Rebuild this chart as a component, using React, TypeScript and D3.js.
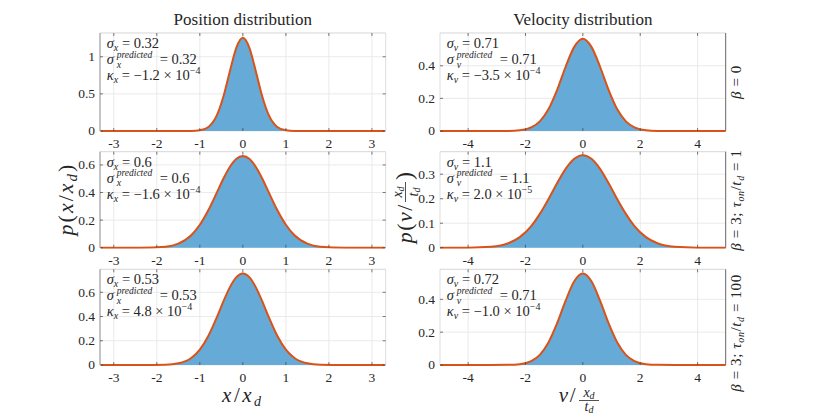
import * as d3 from "d3";

const SERIF = "'Liberation Serif', 'Times New Roman', serif";

// sample points (position column, x / x_d)
const posX = [-3.3, -2.4, -1.8, -1.5, -1.2, -1.0, -0.8, -0.6, -0.45, -0.3, -0.15, 0, 0.15, 0.3, 0.45, 0.6, 0.8, 1.0, 1.2, 1.5, 1.8, 2.4, 3.3];
const posBeta0 = [0, 0, 0, 0, 0.0011, 0.0095, 0.055, 0.217, 0.467, 0.809, 1.124, 1.255, 1.124, 0.809, 0.467, 0.217, 0.055, 0.0095, 0.0011, 0, 0, 0, 0];
const posTau1 = [0, 0.0002, 0.0074, 0.029, 0.09, 0.166, 0.273, 0.403, 0.502, 0.587, 0.645, 0.665, 0.645, 0.587, 0.502, 0.403, 0.273, 0.166, 0.09, 0.029, 0.0074, 0.0002, 0];
const posTau100 = [0, 0, 0.0024, 0.0138, 0.058, 0.127, 0.242, 0.398, 0.527, 0.643, 0.725, 0.755, 0.725, 0.643, 0.527, 0.398, 0.242, 0.127, 0.058, 0.0138, 0.0024, 0, 0];

// velocity column, v / (x_d/t_d)
const velX = [-5, -4, -3.2, -2.6, -2.2, -1.8, -1.5, -1.2, -0.9, -0.6, -0.3, 0, 0.3, 0.6, 0.9, 1.2, 1.5, 1.8, 2.2, 2.6, 3.2, 4, 5];
const velBeta0 = [0, 0, 0, 0.0007, 0.0044, 0.022, 0.059, 0.133, 0.251, 0.394, 0.516, 0.566, 0.516, 0.394, 0.251, 0.133, 0.059, 0.022, 0.0044, 0.0007, 0, 0, 0];
const velTau1 = [0, 0.0003, 0.0038, 0.018, 0.043, 0.088, 0.138, 0.198, 0.263, 0.322, 0.363, 0.378, 0.363, 0.322, 0.263, 0.198, 0.138, 0.088, 0.043, 0.018, 0.0038, 0.0003, 0];
const velTau100 = [0, 0, 0, 0.0008, 0.005, 0.024, 0.062, 0.137, 0.253, 0.392, 0.51, 0.557, 0.51, 0.392, 0.253, 0.137, 0.062, 0.024, 0.005, 0.0008, 0, 0, 0];

const posXTicks = [-3, -2, -1, 0, 1, 2, 3];
const velXTicks = [-4, -2, 0, 2, 4];
const posYTicks = [[0, 0.5, 1], [0, 0.2, 0.4, 0.6], [0, 0.2, 0.4, 0.6]];
const velYTicks = [[0, 0.2, 0.4], [0, 0.1, 0.2, 0.3], [0, 0.2, 0.4]];
const posYMax = [1.32, 0.696, 0.79];
const velYMax = [0.601, 0.392, 0.583];

const posSigma = ["0.32", "0.6", "0.53"];
const posSigmaPred = ["0.32", "0.6", "0.53"];
const posKappa = ["\u22121.2", "\u22121.6", "4.8"];
const posKappaExp = ["\u22124", "\u22124", "\u22124"];
const velSigma = ["0.71", "1.1", "0.72"];
const velSigmaPred = ["0.71", "1.1", "0.71"];
const velKappa = ["\u22123.5", "2.0", "\u22121.0"];
const velKappaExp = ["\u22124", "\u22125", "\u22124"];

const betaVals = ["0", "3", "3"];
const tauRatios = ["", "1", "100"];

const posSeries = [posBeta0, posTau1, posTau100];
const velSeries = [velBeta0, velTau1, velTau100];

// layout
const ROWS = [
  { top: 33, bottom: 131 },
  { top: 151.7, bottom: 247.7 },
  { top: 269.3, bottom: 365 },
];
const POS_L = 100, POS_R = 385.7;
const VEL_L = 440, VEL_R = 725.7;
const LABEL_Y = [82, 200, 333];

const BLUE = "rgb(102,170,215)";
const RED = "#D95319";

type P = [number, number];

function Panel(props: {
  id: string; left: number; right: number; top: number; bottom: number;
  domain: [number, number]; xTicks: number[]; yMax: number; yTicks: number[];
  xs: number[]; ys: number[]; col: "pos" | "vel";
}) {
  const { id, left, right, top, bottom, domain, xTicks, yMax, yTicks, xs, ys, col } = props;
  const x = d3.scaleLinear().domain(domain).range([left, right]);
  const y = d3.scaleLinear().domain([0, yMax]).range([bottom, top]);
  const pts: P[] = xs.map((v, i) => [v, ys[i]]);
  const area = d3.area<P>().x((d) => x(d[0])).y0(y(0)).y1((d) => y(d[1])).curve(d3.curveMonotoneX);
  const line = d3.line<P>().x((d) => x(d[0])).y((d) => y(d[1])).curve(d3.curveMonotoneX);
  const T = 3;
  return (
    <g>
      <defs>
        <clipPath id={id}>
          <rect x={left} y={top - 2} width={right - left} height={bottom - top + 3} />
        </clipPath>
      </defs>
      {/* grid */}
      {xTicks.map((t) => (
        <line key={"gx" + t} x1={x(t)} x2={x(t)} y1={top} y2={bottom} stroke="#e4e4e4" strokeWidth={0.8} />
      ))}
      {yTicks.map((t) => (
        <line key={"gy" + t} x1={left} x2={right} y1={y(t)} y2={y(t)} stroke="#e4e4e4" strokeWidth={0.8} />
      ))}
      <g clipPath={`url(#${id})`}>
        <path d={area(pts) || ""} fill={BLUE} />
        <path d={line(pts) || ""} fill="none" stroke={RED} strokeWidth={2} strokeLinejoin="round" />
      </g>
      {/* box */}
      <line x1={left} x2={right} y1={top} y2={top} stroke="#c4c4c4" strokeWidth={0.7} />
      {col === "pos" ? (
        <>
          <line x1={left} x2={left} y1={top} y2={bottom} stroke="#8a8a8a" strokeWidth={1} />
          <line x1={right} x2={right} y1={top} y2={bottom} stroke="#d0d0d0" strokeWidth={0.7} />
        </>
      ) : (
        <>
          <line x1={left} x2={left} y1={top} y2={bottom} stroke="#d0d0d0" strokeWidth={0.7} />
          <line x1={right} x2={right} y1={top} y2={bottom} stroke="#666" strokeWidth={1} />
        </>
      )}
      {/* ticks inside */}
      {xTicks.map((t) => (
        <g key={"tx" + t} stroke="#444" strokeWidth={0.7}>
          <line x1={x(t)} x2={x(t)} y1={top} y2={top + T} />
          <line x1={x(t)} x2={x(t)} y1={bottom} y2={bottom - T} />
        </g>
      ))}
      {yTicks.map((t) => (
        <g key={"ty" + t} stroke="#444" strokeWidth={0.7}>
          <line x1={left} x2={left + T} y1={y(t)} y2={y(t)} />
          {col === "pos" && <line x1={right} x2={right - T} y1={y(t)} y2={y(t)} />}
        </g>
      ))}
      {/* tick labels */}
      {xTicks.map((t) => (
        <text key={"lx" + t} x={x(t)} y={bottom + 17} textAnchor="middle" fontSize={13.5} fontFamily={SERIF} fill="#262626">
          {String(t)}
        </text>
      ))}
      {yTicks.map((t) => (
        <text key={"ly" + t} x={left - 5} y={y(t)} dy="0.33em" textAnchor="end" fontSize={13.5} fontFamily={SERIF} fill="#262626">
          {String(t)}
        </text>
      ))}
    </g>
  );
}

function Annot(props: { x: number; top: number; sub: string; sigma: string; pred: string; kappa: string; exp: string }) {
  const { x, top, sub, sigma, pred, kappa, exp } = props;
  const b1 = top + 15, b2 = top + 31, b3 = top + 47;
  return (
    <g fontFamily={SERIF} fontSize={14.5} fill="#262626">
      <text x={x} y={b1}>
        <tspan fontStyle="italic">σ</tspan>
        <tspan fontStyle="italic" fontSize={10} dy={3}>{sub}</tspan>
        <tspan dy={-3}>{" = " + sigma}</tspan>
      </text>
      <text x={x} y={b2} fontStyle="italic">σ</text>
      <text x={x + 10} y={b2 - 6.5} fontStyle="italic" fontSize={9.5}>predicted</text>
      <text x={x + 10} y={b2 + 3.5} fontStyle="italic" fontSize={10}>{sub}</text>
      <text x={x + 53} y={b2}>{"= " + pred}</text>
      <text x={x} y={b3}>
        <tspan fontStyle="italic">κ</tspan>
        <tspan fontStyle="italic" fontSize={10} dy={3}>{sub}</tspan>
        <tspan dy={-3}>{" = " + kappa + " × 10"}</tspan>
        <tspan fontSize={10} dy={-6}>{exp}</tspan>
      </text>
    </g>
  );
}

function RowLabel({ cy, beta, tau }: { cy: number; beta: string; tau: string }) {
  return (
    <text transform={`translate(741,${cy}) rotate(-90)`} textAnchor="middle" fontFamily={SERIF} fontSize={15} fill="#262626" letterSpacing={0.6}>
      <tspan fontStyle="italic">β</tspan>
      <tspan>{" = " + beta}</tspan>
      {tau && (
        <>
          <tspan>{"; "}</tspan>
          <tspan fontStyle="italic">τ</tspan>
          <tspan fontStyle="italic" fontSize={10} dy={3}>on</tspan>
          <tspan dy={-3}>/</tspan>
          <tspan fontStyle="italic">t</tspan>
          <tspan fontStyle="italic" fontSize={10} dy={3}>d</tspan>
          <tspan dy={-3}>{" = " + tau}</tspan>
        </>
      )}
    </text>
  );
}

export default function App() {
  return (
    <svg
      width={830}
      height={420}
      viewBox="0 0 830 420"
      style={{ display: "block", position: "absolute", left: 0, top: 0, background: "#fff" }}
    >
      <rect width={830} height={420} fill="#fff" />
      <text x={242.8} y={25} textAnchor="middle" fontFamily={SERIF} fontSize={17} fill="#262626">Position distribution</text>
      <text x={582.8} y={25} textAnchor="middle" fontFamily={SERIF} fontSize={17} fill="#262626">Velocity distribution</text>

      {ROWS.map((r, i) => (
        <g key={"row" + i}>
          <Panel id={"cp" + i} left={POS_L} right={POS_R} top={r.top} bottom={r.bottom} domain={[-3.32, 3.32]}
            xTicks={posXTicks} yMax={posYMax[i]} yTicks={posYTicks[i]} xs={posX} ys={posSeries[i]} col="pos" />
          <Panel id={"cv" + i} left={VEL_L} right={VEL_R} top={r.top} bottom={r.bottom} domain={[-4.98, 4.98]}
            xTicks={velXTicks} yMax={velYMax[i]} yTicks={velYTicks[i]} xs={velX} ys={velSeries[i]} col="vel" />
          <Annot x={POS_L + 6.7} top={r.top} sub="x" sigma={posSigma[i]} pred={posSigmaPred[i]} kappa={posKappa[i]} exp={posKappaExp[i]} />
          <Annot x={VEL_L + 6.7} top={r.top} sub="v" sigma={velSigma[i]} pred={velSigmaPred[i]} kappa={velKappa[i]} exp={velKappaExp[i]} />
          <RowLabel cy={LABEL_Y[i]} beta={betaVals[i]} tau={tauRatios[i]} />
        </g>
      ))}

      {/* y labels */}
      <text transform="translate(73,199) rotate(-90)" textAnchor="middle" fontFamily={SERIF} fontSize={22} fill="#262626" letterSpacing={2}>
        <tspan fontStyle="italic">p</tspan>
        <tspan>(</tspan>
        <tspan fontStyle="italic">x</tspan>
        <tspan>/</tspan>
        <tspan fontStyle="italic">x</tspan>
        <tspan fontStyle="italic" fontSize={15} dy={4}>d</tspan>
        <tspan dy={-4}>)</tspan>
      </text>
      <g transform="translate(412,199) rotate(-90)" fontFamily={SERIF} fill="#262626">
        <text x={-4} y={0} textAnchor="end" fontSize={22} letterSpacing={1.5}>
          <tspan fontStyle="italic">p</tspan>
          <tspan>(</tspan>
          <tspan fontStyle="italic">v</tspan>
          <tspan>/</tspan>
        </text>
        <text x={7} y={-10} textAnchor="middle" fontSize={14}>
          <tspan fontStyle="italic">x</tspan>
          <tspan fontStyle="italic" fontSize={10} dy={2}>d</tspan>
        </text>
        <line x1={-3} x2={17} y1={-6.5} y2={-6.5} stroke="#262626" strokeWidth={0.8} />
        <text x={7} y={6} textAnchor="middle" fontSize={14}>
          <tspan fontStyle="italic">t</tspan>
          <tspan fontStyle="italic" fontSize={10} dy={2}>d</tspan>
        </text>
        <text x={19} y={0} fontSize={24}>)</text>
      </g>

      {/* x labels */}
      <text x={242.8} y={402} textAnchor="middle" fontFamily={SERIF} fontSize={21} fill="#262626" letterSpacing={2.5}>
        <tspan fontStyle="italic">x</tspan>
        <tspan>/</tspan>
        <tspan fontStyle="italic">x</tspan>
        <tspan fontStyle="italic" fontSize={14} dy={4}>d</tspan>
      </text>
      <g fontFamily={SERIF} fill="#262626">
        <text x={577} y={402} textAnchor="end" fontSize={21} letterSpacing={1.5}>
          <tspan fontStyle="italic">v</tspan>
          <tspan>/</tspan>
        </text>
        <text x={589} y={397} textAnchor="middle" fontSize={14}>
          <tspan fontStyle="italic">x</tspan>
          <tspan fontStyle="italic" fontSize={10} dy={2}>d</tspan>
        </text>
        <line x1={579} x2={599} y1={400.5} y2={400.5} stroke="#262626" strokeWidth={0.8} />
        <text x={589} y={411} textAnchor="middle" fontSize={14}>
          <tspan fontStyle="italic">t</tspan>
          <tspan fontStyle="italic" fontSize={10} dy={2}>d</tspan>
        </text>
      </g>
    </svg>
  );
}
